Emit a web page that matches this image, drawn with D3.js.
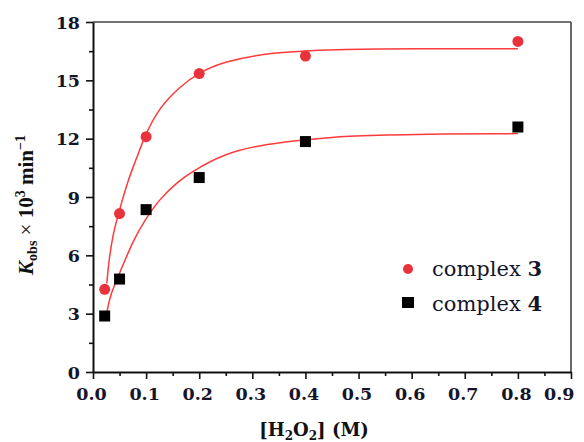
<!DOCTYPE html>
<html>
<head>
<meta charset="utf-8">
<script src="https://cdn.jsdelivr.net/npm/d3@7"></script>
<style>
  html, body { margin: 0; padding: 0; background: #fff; }
  svg { display: block; }
  .tick text { font-family: "DejaVu Serif", serif; font-weight: bold; font-size: 17.5px; fill: #15152a; }
</style>
</head>
<body>
<div id="chart"></div>
<script>
const xData = [0.022, 0.05, 0.1, 0.2, 0.4, 0.8];
const complex3 = [4.25, 8.15, 12.1, 15.35, 16.25, 17.0];
const complex4 = [2.88, 4.78, 8.35, 10.0, 11.85, 12.6];

// Fitted curves, sampled along the drawn red lines
const fit3X = [0.026, 0.03, 0.038, 0.048, 0.066, 0.081, 0.097, 0.126, 0.164, 0.197, 0.245, 0.333, 0.459, 0.6, 0.8];
const fit3Y = [4.56, 5.76, 7.13, 8.16, 9.88, 10.9, 12.14, 13.65, 14.68, 15.36, 15.96, 16.44, 16.6, 16.62, 16.63];
const fit4X = [0.026, 0.032, 0.054, 0.076, 0.098, 0.126, 0.164, 0.182, 0.245, 0.333, 0.395, 0.477, 0.593, 0.8];
const fit4Y = [3.02, 3.96, 5.33, 6.79, 7.82, 8.93, 9.88, 10.22, 11.25, 11.76, 11.93, 12.14, 12.23, 12.26];

const xTicks = [0, 0.1, 0.2, 0.3, 0.4, 0.5, 0.6, 0.7, 0.8, 0.9];
const yTicks = [0, 3, 6, 9, 12, 15, 18];
const legendLabels = ['3', '4'];

const width = 584, height = 442;
const margin = { top: 22, right: 13, bottom: 70, left: 93 };
const innerW = width - margin.left - margin.right;
const innerH = height - margin.top - margin.bottom;

const RED = '#e8333c';
const LINE = '#ff3a3a';

const svg = d3.select('#chart').append('svg')
  .attr('width', width)
  .attr('height', height);

const g = svg.append('g').attr('transform', `translate(${margin.left},${margin.top})`);

const x = d3.scaleLinear().domain([0, 0.9]).range([0, innerW]);
const y = d3.scaleLinear().domain([0, 18]).range([innerH, 0]);

// frame: top and right edges
g.append('line').attr('x1', 0).attr('x2', innerW).attr('y1', 0).attr('y2', 0)
  .attr('stroke', '#444').attr('stroke-width', 1.6);
g.append('line').attr('x1', innerW).attr('x2', innerW).attr('y1', 0).attr('y2', innerH)
  .attr('stroke', '#444').attr('stroke-width', 1.6);

// minor ticks
const xMinor = xTicks.slice(0, -1).map(v => v + 0.05);
const yMinor = yTicks.slice(0, -1).map(v => v + 1.5);

g.append('g').attr('transform', `translate(0,${innerH})`)
  .call(d3.axisBottom(x).tickValues(xMinor).tickSize(4).tickFormat(''))
  .call(a => a.select('.domain').remove())
  .call(a => a.selectAll('line').attr('stroke', '#111').attr('stroke-width', 1.6));
g.append('g')
  .call(d3.axisLeft(y).tickValues(yMinor).tickSize(4).tickFormat(''))
  .call(a => a.select('.domain').remove())
  .call(a => a.selectAll('line').attr('stroke', '#111').attr('stroke-width', 1.6));

// main axes
g.append('g').attr('transform', `translate(0,${innerH})`)
  .call(d3.axisBottom(x).tickValues(xTicks).tickSize(7).tickSizeOuter(0).tickPadding(9).tickFormat(d3.format('.1f')))
  .call(a => a.select('.domain').attr('stroke', '#111').attr('stroke-width', 2))
  .call(a => a.selectAll('line').attr('stroke', '#111').attr('stroke-width', 1.6))
  .call(a => a.selectAll('text').attr('dx', -2))
  .call(a => a.selectAll('text').filter(d => d === 0.9).attr('text-anchor', 'end').attr('dx', 3));

g.append('g')
  .call(d3.axisLeft(y).tickValues(yTicks).tickSize(7).tickSizeOuter(0).tickPadding(6).tickFormat(d3.format('d')))
  .call(a => a.select('.domain').attr('stroke', '#111').attr('stroke-width', 2))
  .call(a => a.selectAll('line').attr('stroke', '#111').attr('stroke-width', 1.6))
  .call(a => a.selectAll('text').attr('dy', '0.36em'));

// fitted lines
const line = d3.line().x(d => x(d[0])).y(d => y(d[1])).curve(d3.curveBasis);
[[fit3X, fit3Y], [fit4X, fit4Y]].forEach(([xs, ys]) => {
  g.append('path')
    .datum(xs.map((v, i) => [v, ys[i]]))
    .attr('d', line)
    .attr('fill', 'none')
    .attr('stroke', LINE)
    .attr('stroke-width', 1.5);
});

// data points
g.append('g').selectAll('circle')
  .data(xData.map((v, i) => [v, complex3[i]]))
  .join('circle')
  .attr('cx', d => x(d[0]))
  .attr('cy', d => y(d[1]))
  .attr('r', 5.5)
  .attr('fill', RED);

const sq = 11;
g.append('g').selectAll('rect')
  .data(xData.map((v, i) => [v, complex4[i]]))
  .join('rect')
  .attr('x', d => x(d[0]) - sq / 2)
  .attr('y', d => y(d[1]) - sq / 2)
  .attr('width', sq)
  .attr('height', sq)
  .attr('fill', '#000');

// legend
const legend = svg.append('g').attr('transform', 'translate(408,269)');
legend.append('circle').attr('cx', 0).attr('cy', 0).attr('r', 5).attr('fill', RED);
legend.append('rect').attr('x', -6).attr('y', 28).attr('width', 12).attr('height', 11).attr('fill', '#000');
legendLabels.forEach((lab, i) => {
  const t = legend.append('text')
    .attr('x', 24)
    .attr('y', 7 + i * 35)
    .attr('font-family', '"DejaVu Serif", serif')
    .attr('font-size', 21)
    .attr('fill', '#15152a');
  t.append('tspan').text('complex ');
  t.append('tspan').attr('font-weight', 'bold').text(lab);
});

// axis titles
const xt = svg.append('text')
  .attr('x', margin.left + innerW / 2 - 18)
  .attr('y', 436)
  .attr('text-anchor', 'middle')
  .attr('font-family', '"DejaVu Serif", serif')
  .attr('font-weight', 'bold')
  .attr('font-size', 18)
  .attr('fill', '#111');
xt.append('tspan').text('[H');
xt.append('tspan').attr('font-size', 12).attr('dy', 4).text('2');
xt.append('tspan').attr('dy', -4).text('O');
xt.append('tspan').attr('font-size', 12).attr('dy', 4).text('2');
xt.append('tspan').attr('dy', -4).text('] (M)');

const yt = svg.append('text')
  .attr('transform', 'translate(33,205) rotate(-90)')
  .attr('text-anchor', 'middle')
  .attr('font-family', '"Liberation Serif", serif')
  .attr('font-weight', 'bold')
  .attr('font-size', 21)
  .attr('fill', '#111');
yt.append('tspan').attr('font-style', 'italic').text('K');
yt.append('tspan').attr('font-size', 14).attr('dy', 4).text('obs');
yt.append('tspan').attr('dy', -4).attr('font-weight', 'normal').text(' × ');
yt.append('tspan').text('10');
yt.append('tspan').attr('font-size', 14).attr('dy', -8).text('3');
yt.append('tspan').attr('dy', 8).text(' min');
yt.append('tspan').attr('font-size', 14).attr('dy', -8).text('−1');
</script>
</body>
</html>
